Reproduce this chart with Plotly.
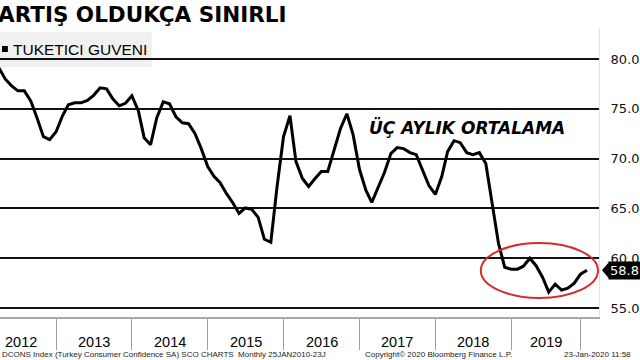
import plotly.graph_objects as go
import pandas as pd

# ---- data ----
start_month = "2012-04-01"
values = [
    79.1, 78.0, 77.3, 76.8, 76.8, 75.8, 74.1, 72.2, 71.9,              # 2012 Apr-Dec
    72.7, 74.3, 75.4, 75.6, 75.6, 75.85, 76.35, 77.1, 77.0, 76.0, 75.3, 75.55,  # 2013
    76.3, 74.8, 72.1, 71.4, 74.1, 75.7, 75.5, 74.2, 73.6, 73.5, 72.5, 71.0,     # 2014
    69.2, 68.2, 67.6, 66.5, 65.6, 64.5, 65.05, 64.9, 64.1, 61.9, 61.6, 67.2,    # 2015
    72.2, 74.3, 69.7, 68.0, 67.2, 68.0, 68.7, 68.7, 71.0, 73.0, 74.5, 72.4,     # 2016
    68.9, 66.8, 65.6, 67.1, 68.6, 70.5, 71.1, 71.0, 70.6, 70.4, 68.9, 67.3,     # 2017
    66.4, 68.2, 70.7, 71.8, 71.6, 70.6, 70.4, 70.6, 69.5, 65.5, 61.5, 59.1,     # 2018
    58.9, 58.9, 59.2, 60.0, 59.25, 58.1, 56.6, 57.4, 56.8, 57.0, 57.5, 58.4,    # 2019
    58.8,                                                                        # 2020 Jan
]
dates = pd.date_range(start_month, periods=len(values), freq="MS")

year_boundaries = ["2013-01-01", "2014-01-01", "2015-01-01", "2016-01-01",
                   "2017-01-01", "2018-01-01", "2019-01-01", "2019-12-01"]
year_labels = ["2012", "2013", "2014", "2015", "2016", "2017", "2018", "2019"]
year_label_pos = ["2012-07-14", "2013-07-02", "2014-07-02", "2015-07-02",
                  "2016-07-02", "2017-07-02", "2018-07-02", "2019-06-16"]
y_ticks = [55, 60, 65, 70, 75, 80]

title_text = "ARTIŞ OLDUKÇA SINIRLI"
series_name = "TUKETICI GUVENI"
note_text = "ÜÇ AYLIK ORTALAMA"
footer_left = "DCONS Index (Turkey Consumer Confidence SA) SCO CHARTS  Monthly 25JAN2010-23J"
footer_mid = "Copyright© 2020 Bloomberg Finance L.P."
footer_right = "23-Jan-2020 11:58"

# ---- layout helpers (pixel -> paper) ----
W, H = 640, 360
L, R, T, B = 0, 32, 28, 43
PW, PH = W - L - R, H - T - B
def px(x):
    return (x - L) / PW
def py(y):
    return (H - B - y) / PH

fig = go.Figure()
fig.add_trace(go.Scatter(x=dates, y=values, mode="lines",
                         line=dict(color="black", width=3), showlegend=False,
                         hoverinfo="skip"))

fig.update_layout(
    width=W, height=H,
    margin=dict(l=L, r=R, t=T, b=B, pad=0),
    paper_bgcolor="white", plot_bgcolor="rgba(0,0,0,0)",
    xaxis=dict(range=["2012-04-06", "2020-02-28"], type="date",
               tickvals=year_boundaries, showticklabels=False,
               ticks="outside", ticklen=31, tickcolor="#a0a0a0", tickwidth=1,
               showgrid=False, zeroline=False,
               showline=True, linecolor="#a8a8a8", linewidth=2),
    yaxis=dict(range=[54.10, 83.11], side="right", tickvals=y_ticks,
               ticktext=[f"{v:.1f}" for v in y_ticks],
               showgrid=True, gridcolor="#111111", gridwidth=2,
               zeroline=False, ticks="", ticklabelstandoff=8,
               showline=True, linecolor="#e2e2e2", linewidth=1,
               tickfont=dict(family="DejaVu Sans", size=13, color="#111")),
)

shapes = []
# legend background box
shapes.append(dict(type="rect", xref="paper", yref="paper",
                   x0=px(-2), x1=px(154), y0=py(67), y1=py(32),
                   fillcolor="#f0f0f0", line=dict(width=0), layer="below"))
# legend marker square
shapes.append(dict(type="rect", xref="paper", yref="paper",
                   x0=px(2), x1=px(8), y0=py(52), y1=py(46),
                   fillcolor="black", line=dict(width=0)))
# red ellipse
shapes.append(dict(type="circle", xref="paper", yref="paper",
                   x0=px(488), x1=px(607), y0=py(298), y1=py(243),
                   line=dict(color="#d42b2b", width=2), layer="above"))
# last value arrow tip
last = values[-1]
shapes.append(dict(type="path", xref="paper", yref="y",
                   path=f"M {px(611)} {last} L {px(618)} {last + 0.8} L {px(618)} {last - 0.8} Z",
                   fillcolor="black", line=dict(width=0)))
fig.update_layout(shapes=shapes)

ann = []
ann.append(dict(text=f"<b>{title_text}</b>", xref="paper", yref="paper",
                x=px(-4), y=py(15), xanchor="left", yanchor="middle", showarrow=False,
                font=dict(family="DejaVu Sans", size=21.5, color="black")))
ann.append(dict(text=series_name, xref="paper", yref="paper",
                x=px(11), y=py(50), xanchor="left", yanchor="middle", showarrow=False,
                font=dict(family="Liberation Sans", size=15.5, color="black")))
ann.append(dict(text=f"<b><i>{note_text}</i></b>", xref="paper", yref="paper",
                x=px(474), y=py(128), xanchor="center", yanchor="middle", showarrow=False,
                font=dict(family="DejaVu Sans", size=17, color="black")))
for lab, pos in zip(year_labels, year_label_pos):
    ann.append(dict(text=lab, xref="x", yref="paper", x=pos, y=py(342),
                    xanchor="center", yanchor="middle", showarrow=False,
                    font=dict(family="Liberation Sans", size=14.5, color="black")))
ann.append(dict(text=f"{last:.1f}", xref="paper", yref="y", x=px(617), y=last,
                xanchor="left", yanchor="middle", showarrow=False,
                bgcolor="black", borderpad=1,
                font=dict(family="DejaVu Sans", size=13, color="white")))
foot_font = dict(family="Liberation Sans", size=8, color="#222")
ann.append(dict(text=footer_left, xref="paper", yref="paper", x=px(0), y=py(354),
                xanchor="left", yanchor="middle", showarrow=False, font=foot_font))
ann.append(dict(text=footer_mid, xref="paper", yref="paper", x=px(368), y=py(354),
                xanchor="left", yanchor="middle", showarrow=False, font=foot_font))
ann.append(dict(text=footer_right, xref="paper", yref="paper", x=px(570), y=py(354),
                xanchor="left", yanchor="middle", showarrow=False, font=foot_font))
fig.update_layout(annotations=ann)

fig.write_html("out.html")
